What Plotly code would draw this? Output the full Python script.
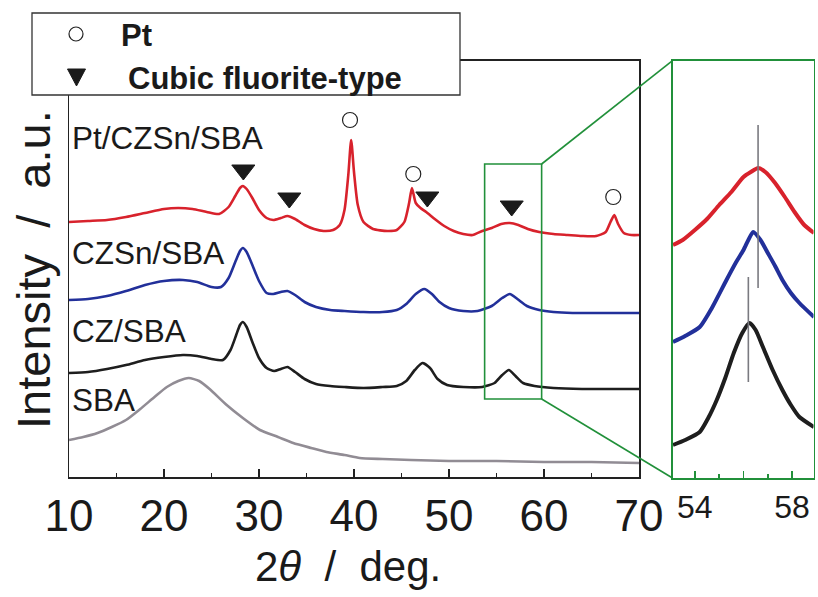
import plotly.graph_objects as go

# ---------------- data ----------------
red_x = [10, 12, 14, 16, 18, 20, 21.5, 23, 24.5, 25.8, 26.8, 27.5, 28.0, 28.3, 28.7, 29.3, 30.0, 30.8,
         31.5, 32.3, 33.0, 33.8, 34.8, 35.8, 36.8, 37.8, 38.5, 39.0, 39.4, 39.7, 40.0, 40.4, 41.0, 42.0,
         43.5, 44.5, 45.3, 45.8, 46.1, 46.5, 47.0, 47.6, 48.5, 49.5, 50.5, 51.5, 52.5, 53.5, 54.5, 55.5,
         56.4, 57.3, 58.3, 59.5, 61.0, 62.5, 64.0, 65.5, 66.5, 67.0, 67.4, 67.8, 68.4, 69.2, 70.0]
red_y = [255, 256, 257, 260, 264, 268, 269, 268, 265, 263, 270, 281, 289, 291, 288, 279, 267, 259,
         257, 259, 261, 258, 252, 248, 246, 247, 252, 267, 302, 337, 305, 272, 255, 248,
         246, 247, 255, 274, 289, 274, 269, 265, 258, 251, 246, 243, 242, 246, 249, 253,
         254, 252, 248, 245, 243, 242, 241, 241, 245, 255, 262, 253, 244, 242, 242]

blue_x = [10, 12, 14, 16, 18, 20, 22, 23.5, 25.0, 26.0, 26.8, 27.5, 28.0, 28.3, 28.7, 29.3, 30.0, 30.8,
          31.5, 32.3, 33.0, 33.8, 34.8, 36.0, 37.5, 39.0, 41.0, 43.0, 44.5, 45.5, 46.5, 47.4, 48.2,
          49.0, 50.0, 51.5, 53.0, 54.5, 55.6, 56.4, 57.2, 58.2, 59.5, 61.0, 63.0, 66.0, 68.0, 70.0]
blue_y = [177, 178, 181, 186, 192, 196, 197, 195, 190, 190, 199, 215, 226, 229, 225, 212, 196, 184,
          183, 185, 186, 182, 175, 170, 167, 166, 165, 165, 167, 173, 183, 188, 183,
          175, 169, 166, 166, 171, 179, 183, 178, 171, 167, 165, 164, 164, 164, 164]

black_x = [10, 12, 14, 16, 18, 20, 22, 23.5, 25.0, 26.2, 27.0, 27.6, 28.0, 28.3, 28.7, 29.3, 30.0, 30.8,
           31.6, 32.3, 33.0, 33.8, 34.8, 36.0, 37.5, 39.0, 41.0, 43.0, 44.5, 45.5, 46.4, 47.2, 48.0,
           48.8, 49.8, 51.5, 53.5, 54.8, 55.6, 56.3, 57.0, 57.8, 59.0, 61.0, 64.0, 67.0, 70.0]
black_y = [104, 105, 108, 112, 117, 120, 122, 121, 118, 117, 127, 142, 152, 155, 150, 135, 119, 109,
           106, 108, 110, 105, 98, 93, 91, 90, 89, 90, 91, 96, 107, 114, 109,
           98, 92, 90, 90, 94, 102, 107, 101, 94, 91, 89, 88, 88, 88]

grey_x = [10, 11.5, 13, 14.5, 16, 17.5, 19, 20.3, 21.5, 22.6, 23.7, 24.8, 26.6, 28.3, 30.1, 32.0, 33.6,
          35.5, 37.1, 39.0, 40.6, 43.0, 46.0, 50.0, 55.0, 60.0, 65.0, 70.0]
grey_y = [37, 40, 44, 50, 57, 68, 80, 90, 96, 99, 96, 88, 72, 59, 47, 40, 34,
          29, 25, 22, 19, 18, 17, 16, 16, 15, 15, 14]

series_names = ["Pt/CZSn/SBA", "CZSn/SBA", "CZ/SBA", "SBA"]
series_label_y = [339, 224, 146, 77]

pt_x = [39.58, 46.24, 67.29]
pt_y = [357, 303, 280]
fluor_x = [28.35, 33.19, 47.72, 56.6]
fluor_y = [307, 279, 280, 271]

zoom_x = [53.75, 59.75]
zoom_y = [78, 313]

# inset data
in_red_x = [53.1, 53.5, 54.0, 54.5, 55.0, 55.5, 56.0, 56.3, 56.6, 56.9, 57.3, 57.7, 58.1, 58.5, 58.9]
in_red_y = [233, 238, 248, 259, 273, 286, 301, 306, 310, 306, 295, 281, 266, 253, 245]
in_blue_x = [53.1, 53.6, 54.2, 54.7, 55.3, 55.7, 56.0, 56.2, 56.4, 56.7, 57.0, 57.3, 57.6, 57.95, 58.3, 58.9]
in_blue_y = [136, 142, 151, 170, 198, 216, 228, 238, 246, 238, 225, 212, 198, 185, 175, 161]
in_black_x = [53.1, 53.6, 54.2, 54.55, 54.9, 55.25, 55.6, 55.95, 56.25, 56.5, 56.8, 57.2, 57.6, 57.95, 58.3, 58.9]
in_black_y = [33, 38, 46, 60, 78, 100, 125, 145, 155, 148, 131, 108, 88, 73, 61, 51]
ref_x = [56.6, 56.2]
ref_y0 = [190, 96]
ref_y1 = [353, 201]

tick_vals = [10, 20, 30, 40, 50, 60, 70]
inset_tick_vals = [54, 56, 58]
inset_tick_text = ["54", "", "58"]

# ---------------- styling ----------------
W, H = 818, 597
FONT = "Liberation Sans, Arial, sans-serif"
RED, BLUE, BLACK, GREY = "#d8222c", "#22309a", "#1e1e1e", "#918c94"
GREEN = "#21903a"
NB = "\u00a0"

def px_x(p):
    return p / W

def px_y(p):
    return 1 - p / H

main_xdom = [px_x(69), px_x(639)]
main_ydom = [px_y(477), px_y(60.5)]
main_xr = [10, 70]
main_yr = [0, 416.5]
in_xdom = [px_x(672.5), px_x(813.5)]
in_ydom = [px_y(478), px_y(60.7)]
in_xr = [53.08, 58.88]
in_yr = [0, 417.3]

def data_to_paper(x, y):
    px = main_xdom[0] + (x - main_xr[0]) / (main_xr[1] - main_xr[0]) * (main_xdom[1] - main_xdom[0])
    py = main_ydom[0] + (y - main_yr[0]) / (main_yr[1] - main_yr[0]) * (main_ydom[1] - main_ydom[0])
    return px, py

fig = go.Figure()
for xs, ys, c in [(grey_x, grey_y, GREY), (black_x, black_y, BLACK), (blue_x, blue_y, BLUE), (red_x, red_y, RED)]:
    fig.add_trace(go.Scatter(x=xs, y=ys, mode="lines",
                             line=dict(color=c, width=2.6, shape="spline", smoothing=0.6),
                             xaxis="x", yaxis="y", showlegend=False, hoverinfo="skip"))
fig.add_trace(go.Scatter(x=pt_x, y=pt_y, mode="markers",
                         marker=dict(symbol="circle", size=15, color="white", line=dict(color="#222", width=1.2)),
                         showlegend=False, hoverinfo="skip"))
fig.add_trace(go.Scatter(x=fluor_x, y=fluor_y, mode="markers",
                         marker=dict(symbol="triangle-down", size=20, color="#1a1a1a", line=dict(color="#1a1a1a", width=1)),
                         showlegend=False, hoverinfo="skip"))

for xs, ys, c in [(in_black_x, in_black_y, BLACK), (in_blue_x, in_blue_y, BLUE), (in_red_x, in_red_y, RED)]:
    fig.add_trace(go.Scatter(x=xs, y=ys, mode="lines",
                             line=dict(color=c, width=4, shape="spline", smoothing=0.6),
                             xaxis="x2", yaxis="y2", showlegend=False, hoverinfo="skip"))
for rx, a, b in zip(ref_x, ref_y0, ref_y1):
    fig.add_trace(go.Scatter(x=[rx, rx], y=[a, b], mode="lines", line=dict(color="#7a7a80", width=1.6),
                             xaxis="x2", yaxis="y2", showlegend=False, hoverinfo="skip"))

shapes = []
shapes.append(dict(type="rect", xref="x", yref="y", x0=zoom_x[0], x1=zoom_x[1], y0=zoom_y[0], y1=zoom_y[1],
                   line=dict(color=GREEN, width=1.6)))
tr = data_to_paper(zoom_x[1], zoom_y[1])
br = data_to_paper(zoom_x[1], zoom_y[0])
shapes.append(dict(type="line", xref="paper", yref="paper", x0=tr[0], y0=tr[1], x1=in_xdom[0], y1=in_ydom[1],
                   line=dict(color=GREEN, width=1.6)))
shapes.append(dict(type="line", xref="paper", yref="paper", x0=br[0], y0=br[1], x1=in_xdom[0], y1=in_ydom[0],
                   line=dict(color=GREEN, width=1.6)))
shapes.append(dict(type="rect", xref="paper", yref="paper", x0=px_x(32), x1=px_x(460), y0=px_y(95), y1=px_y(13),
                   fillcolor="white", line=dict(color="#333", width=1.3), layer="above"))
shapes.append(dict(type="circle", xref="paper", yref="paper", xsizemode="pixel", ysizemode="pixel",
                   xanchor=px_x(76), yanchor=px_y(34), x0=-7, x1=7, y0=-7, y1=7,
                   fillcolor="white", line=dict(color="#222", width=1.2), layer="above"))
shapes.append(dict(type="path", xref="paper", yref="paper", xsizemode="pixel", ysizemode="pixel",
                   xanchor=px_x(76.5), yanchor=px_y(77), path="M -9,8 L 9,8 L 0,-9 Z",
                   fillcolor="#1a1a1a", line=dict(color="#1a1a1a", width=1), layer="above"))

annotations = []
annotations.append(dict(xref="paper", yref="paper", x=px_x(119), y=px_y(35), text="<b>Pt</b>",
                        showarrow=False, xanchor="left", yanchor="middle",
                        font=dict(family=FONT, size=31, color="#1a1a1a")))
annotations.append(dict(xref="paper", yref="paper", x=px_x(126), y=px_y(78), text="<b>Cubic fluorite-type</b>",
                        showarrow=False, xanchor="left", yanchor="middle",
                        font=dict(family=FONT, size=31, color="#1a1a1a")))
for name, ly in zip(series_names, series_label_y):
    annotations.append(dict(xref="x", yref="y", x=10.1, y=ly, text=name, showarrow=False,
                            xanchor="left", yanchor="middle",
                            font=dict(family=FONT, size=31.5, color="#1a1a1a")))
annotations.append(dict(xref="paper", yref="paper", x=px_x(348), y=px_y(566),
                        text="2<i>θ</i>" + NB * 2 + "/" + NB * 2 + "deg.", showarrow=False,
                        xanchor="center", yanchor="middle",
                        font=dict(family=FONT, size=42, color="#1a1a1a")))
annotations.append(dict(xref="paper", yref="paper", x=px_x(33), y=px_y(270),
                        text="Intensity" + NB * 2 + "/" + NB * 2 + "a.u.", showarrow=False, textangle=-90,
                        xanchor="center", yanchor="middle",
                        font=dict(family=FONT, size=47, color="#1a1a1a")))

fig.update_layout(
    width=W, height=H, margin=dict(l=0, r=0, t=0, b=0, pad=0, autoexpand=False),
    paper_bgcolor="white", plot_bgcolor="white", hovermode=False,
    xaxis=dict(domain=main_xdom, range=main_xr, anchor="y", showline=True, mirror=True, automargin=False,
               linecolor="#222", linewidth=1.5, showgrid=False, zeroline=False,
               tickmode="array", tickvals=tick_vals, ticks="inside", ticklen=8, tickwidth=1.3,
               tickcolor="#222", minor=dict(dtick=5, tick0=5, ticks="inside", ticklen=4, tickwidth=1.3, tickcolor="#222"),
               tickfont=dict(family=FONT, size=44, color="#1a1a1a")),
    yaxis=dict(domain=main_ydom, range=main_yr, anchor="x", showline=True, mirror=True, automargin=False,
               linecolor="#222", linewidth=1.5, showgrid=False, zeroline=False,
               showticklabels=False, ticks=""),
    xaxis2=dict(domain=in_xdom, range=in_xr, anchor="y2", showline=True, mirror=True, automargin=False,
                linecolor=GREEN, linewidth=1.6, showgrid=False, zeroline=False,
                tickmode="array", tickvals=inset_tick_vals, ticktext=inset_tick_text,
                ticks="inside", ticklen=7, tickwidth=1.5, tickcolor=GREEN,
                minor=dict(dtick=1, tick0=0, ticks="inside", ticklen=4, tickwidth=1.5, tickcolor=GREEN),
                tickfont=dict(family=FONT, size=32, color="#1a1a1a")),
    yaxis2=dict(domain=in_ydom, range=in_yr, anchor="x2", showline=True, mirror=True, automargin=False,
                linecolor=GREEN, linewidth=1.6, showgrid=False, zeroline=False,
                showticklabels=False, ticks=""),
    shapes=shapes, annotations=annotations, showlegend=False,
)

fig.write_html("out.html", config={"displayModeBar": False, "staticPlot": True},
               post_script="document.body.style.margin='0px';document.body.style.overflow='hidden';")
